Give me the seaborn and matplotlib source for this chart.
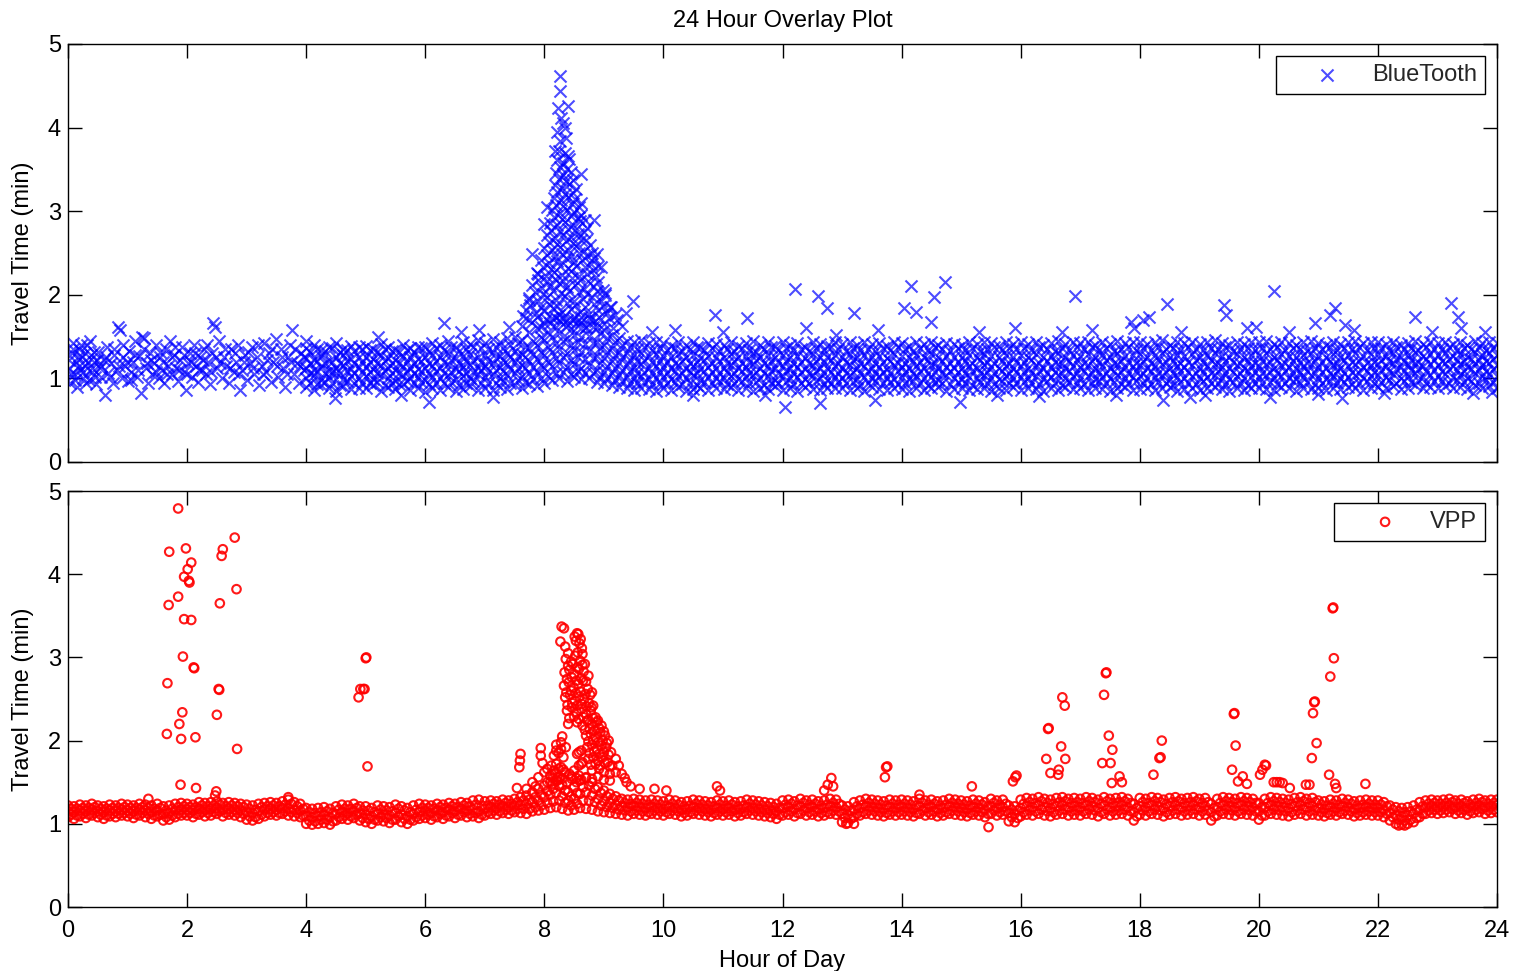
import numpy as np
import pandas as pd
import seaborn as sns
import matplotlib
matplotlib.use("Agg")
import matplotlib.pyplot as plt

# ---------------- BlueTooth data (hour of day, travel time in min) ----------------
bt_early_hour = [0.02, 0.04, 0.06, 0.08, 0.10, 0.13, 0.15, 0.18, 0.20, 0.23, 0.26, 0.29, 0.32, 0.35, 0.38,
                 0.41, 0.44, 0.47, 0.50, 0.53, 0.56, 0.60, 0.62, 0.65, 0.68, 0.72, 0.75, 0.78, 0.82, 0.84,
                 0.87, 0.90, 0.93, 0.96, 1.00, 1.03, 1.06, 1.10, 1.13, 1.16, 1.20, 1.22, 1.25, 1.28, 1.31,
                 1.35, 1.38, 1.41, 1.45, 1.48, 1.52, 1.55, 1.58, 1.62, 1.65, 1.68, 1.72, 1.75, 1.78, 1.82,
                 1.85, 1.88, 1.92, 1.95, 1.98, 2.01, 2.05, 2.08, 2.12, 2.15, 2.18, 2.22, 2.25, 2.28, 2.32,
                 2.35, 2.38, 2.42, 2.44, 2.47, 2.50, 2.54, 2.58, 2.62, 2.66, 2.70, 2.74, 2.78, 2.82, 2.86,
                 2.89, 2.93, 2.97, 3.01, 3.05, 3.09, 3.13, 3.17, 3.21, 3.25, 3.29, 3.33, 3.37, 3.41, 3.45,
                 3.49, 3.53, 3.57, 3.61, 3.65, 3.69, 3.73, 3.76, 3.80, 3.84, 3.88, 3.92, 3.96, 3.99,
                 0.01, 0.05, 0.09, 0.12, 0.16, 0.19, 0.22, 0.25, 0.28, 0.31, 0.34, 0.37, 0.40, 0.43, 0.46,
                 0.49, 0.55, 0.63, 0.70, 0.77, 0.85, 0.92, 0.99, 1.05, 1.12, 1.18, 1.27, 1.33, 1.40, 1.47,
                 1.54, 1.60, 1.67, 1.74, 1.80, 1.87, 1.94, 2.00, 2.06, 2.14, 2.20, 2.27, 2.34, 2.40, 2.48,
                 2.56, 2.64, 2.72, 2.80, 2.88, 2.95, 3.03, 3.11, 3.19, 3.27, 3.35, 3.43, 3.51, 3.59, 3.67,
                 3.75, 3.82, 3.90, 3.97]
bt_early_tt = [1.12, 0.95, 1.30, 1.42, 1.05, 1.20, 0.90, 1.35, 1.10, 1.25, 1.00, 1.15, 1.40, 0.98, 1.28,
               1.08, 1.20, 0.93, 1.32, 1.12, 1.02, 1.22, 0.80, 1.38, 1.06, 1.18, 0.95, 1.28, 1.10, 1.62,
               1.58, 1.00, 1.25, 1.15, 0.97, 1.33, 1.08, 1.20, 1.45, 1.02, 1.27, 0.83, 1.50, 1.48, 1.12,
               0.95, 1.30, 1.05, 1.18, 1.40, 1.00, 1.25, 1.10, 0.94, 1.35, 1.15, 1.45, 1.05, 1.28, 1.12,
               0.97, 1.22, 1.38, 1.08, 0.86, 1.18, 1.30, 1.02, 1.40, 1.15, 0.96, 1.25, 1.10, 1.35, 1.05,
               1.20, 0.93, 1.30, 1.66, 1.62, 1.12, 1.45, 1.00, 1.25, 1.15, 0.95, 1.35, 1.08, 1.20, 1.40,
               0.86, 1.10, 1.28, 0.98, 1.18, 1.38, 1.05, 1.25, 0.92, 1.15, 1.42, 1.08, 1.30, 0.96, 1.20,
               1.47, 1.02, 1.35, 1.12, 0.90, 1.25, 1.40, 1.58, 1.05, 1.18, 0.95, 1.30, 1.10, 1.45,
               1.22, 1.05, 1.35, 0.98, 1.25, 1.15, 1.40, 1.08, 1.30, 0.95, 1.20, 1.45, 1.12, 1.32, 1.02,
               1.22, 1.15, 1.25, 1.02, 1.35, 1.15, 1.40, 1.20, 0.98, 1.28, 1.10, 1.35, 1.18, 1.22, 1.08,
               1.32, 1.20, 1.05, 1.25, 1.38, 1.10, 1.28, 1.05, 1.20, 1.30, 1.10, 1.22, 1.40, 1.08, 1.25,
               1.18, 1.35, 1.12, 1.30, 1.05, 1.20, 1.32, 1.12, 1.40, 1.05, 1.22, 1.35, 1.15, 1.25, 1.05,
               1.20, 1.35, 1.15, 1.25]

bt_band_hour = [4.00, 4.13, 4.25, 4.38, 4.50, 4.62, 4.75, 4.88,
                5.01, 5.13, 5.26, 5.38, 5.50, 5.63, 5.75, 5.87,
                6.00, 6.12, 6.25, 6.38, 6.51, 6.63, 6.75, 6.88,
                7.00, 7.13, 7.25, 7.37, 7.50, 7.62, 7.75, 7.88,
                8.00, 8.13, 8.25, 8.38, 8.50, 8.62, 8.75, 8.88,
                9.00, 9.13, 9.25, 9.38, 9.50, 9.62, 9.75, 9.88,
                10.00, 10.13, 10.25, 10.38, 10.50, 10.62, 10.75, 10.88,
                11.01, 11.13, 11.26, 11.38, 11.50, 11.63, 11.75, 11.87,
                12.00, 12.12, 12.25, 12.38, 12.51, 12.63, 12.75, 12.88,
                13.00, 13.13, 13.25, 13.37, 13.50, 13.62, 13.75, 13.88,
                14.00, 14.13, 14.25, 14.38, 14.50, 14.62, 14.75, 14.88,
                15.01, 15.13, 15.26, 15.38, 15.50, 15.63, 15.75, 15.87,
                16.00, 16.12, 16.25, 16.38, 16.51, 16.63, 16.75, 16.88,
                17.00, 17.13, 17.25, 17.37, 17.50, 17.62, 17.75, 17.88,
                18.00, 18.13, 18.25, 18.38, 18.50, 18.62, 18.75, 18.88,
                19.01, 19.13, 19.26, 19.38, 19.50, 19.63, 19.75, 19.87,
                20.00, 20.12, 20.25, 20.38, 20.51, 20.63, 20.75, 20.88,
                21.00, 21.13, 21.25, 21.37, 21.50, 21.62, 21.75, 21.88,
                22.00, 22.13, 22.25, 22.38, 22.50, 22.62, 22.75, 22.88,
                23.01, 23.13, 23.26, 23.38, 23.50, 23.63, 23.75, 23.87,
                24.00]
bt_band_l1 = [0.90, 0.86, 0.92, 0.88, 0.85, 0.91, 0.87, 0.89,
              0.88, 0.92, 0.85, 0.90, 0.87, 0.93, 0.86, 0.89,
              0.84, 0.88, 0.86, 0.90, 0.85, 0.87, 0.91, 0.86,
              0.88, 0.86, 0.90, 0.87, 0.92, 0.89, 0.93, 0.91,
              0.95, 0.98, 1.00, 0.97, 1.02, 0.99, 1.01, 0.96,
              0.94, 0.92, 0.90, 0.88, 0.86, 0.89, 0.87, 0.85,
              0.88, 0.86, 0.90, 0.85, 0.87, 0.89, 0.86, 0.88,
              0.87, 0.90, 0.86, 0.88, 0.85, 0.89, 0.87, 0.91,
              0.86, 0.88, 0.85, 0.90, 0.87, 0.86, 0.89, 0.88,
              0.89, 0.86, 0.88, 0.85, 0.90, 0.87, 0.86, 0.89,
              0.87, 0.85, 0.89, 0.86, 0.88, 0.90, 0.85, 0.87,
              0.88, 0.86, 0.87, 0.89, 0.85, 0.88, 0.86, 0.90,
              0.86, 0.89, 0.87, 0.85, 0.88, 0.86, 0.90, 0.87,
              0.88, 0.86, 0.89, 0.87, 0.85, 0.88, 0.90, 0.86,
              0.87, 0.89, 0.86, 0.88, 0.90, 0.85, 0.87, 0.89,
              0.86, 0.88, 0.90, 0.87, 0.85, 0.89, 0.86, 0.88,
              0.89, 0.87, 0.86, 0.90, 0.88, 0.85, 0.89, 0.87,
              0.88, 0.86, 0.89, 0.87, 0.90, 0.88, 0.86, 0.89,
              0.90, 0.88, 0.91, 0.87, 0.89, 0.92, 0.88, 0.90,
              0.89, 0.91, 0.88, 0.90, 0.87, 0.92, 0.89, 0.91,
              0.88]
bt_band_l2 = [1.00, 1.04, 0.98, 1.02, 1.06, 0.99, 1.03, 1.01,
              1.03, 0.99, 1.05, 1.01, 0.97, 1.04, 1.00, 1.02,
              0.98, 1.02, 1.00, 1.04, 0.99, 1.03, 1.01, 1.05,
              1.02, 1.05, 1.00, 1.04, 1.07, 1.03, 1.06, 1.08,
              1.12, 1.15, 1.18, 1.14, 1.17, 1.13, 1.16, 1.10,
              1.08, 1.06, 1.04, 1.02, 1.00, 1.03, 0.99, 1.01,
              1.02, 0.99, 1.03, 1.00, 1.04, 0.98, 1.02, 1.01,
              1.00, 1.03, 0.99, 1.02, 1.04, 1.00, 1.03, 0.98,
              1.03, 1.00, 1.02, 0.99, 1.04, 1.01, 0.98, 1.02,
              1.01, 1.04, 0.99, 1.02, 1.00, 1.03, 1.01, 0.99,
              1.02, 0.99, 1.03, 1.00, 1.02, 0.98, 1.04, 1.01,
              0.99, 1.02, 1.00, 1.04, 1.01, 0.99, 1.03, 1.00,
              1.02, 1.00, 1.03, 0.99, 1.02, 1.04, 1.00, 1.03,
              1.01, 1.03, 0.99, 1.02, 1.00, 1.04, 1.01, 1.02,
              1.03, 1.00, 1.02, 1.04, 0.99, 1.02, 1.01, 1.03,
              1.00, 1.02, 1.04, 1.01, 0.99, 1.03, 1.00, 1.02,
              1.02, 1.04, 1.00, 1.03, 1.01, 0.99, 1.02, 1.04,
              1.01, 0.99, 1.03, 1.00, 1.02, 1.04, 1.01, 1.03,
              1.04, 1.02, 1.05, 1.01, 1.03, 1.06, 1.02, 1.04,
              1.03, 1.05, 1.02, 1.04, 1.01, 1.06, 1.03, 1.05,
              1.03]
bt_band_l3 = [1.12, 1.10, 1.15, 1.09, 1.13, 1.16, 1.11, 1.14,
              1.14, 1.11, 1.16, 1.12, 1.10, 1.15, 1.13, 1.11,
              1.12, 1.15, 1.13, 1.17, 1.11, 1.14, 1.16, 1.13,
              1.15, 1.18, 1.14, 1.17, 1.20, 1.16, 1.21, 1.23,
              1.28, 1.32, 1.35, 1.30, 1.34, 1.31, 1.33, 1.27,
              1.24, 1.21, 1.18, 1.16, 1.14, 1.17, 1.13, 1.15,
              1.14, 1.12, 1.16, 1.13, 1.15, 1.11, 1.14, 1.13,
              1.13, 1.16, 1.12, 1.14, 1.17, 1.13, 1.15, 1.12,
              1.15, 1.12, 1.14, 1.11, 1.16, 1.13, 1.12, 1.15,
              1.13, 1.16, 1.12, 1.15, 1.13, 1.14, 1.11, 1.16,
              1.14, 1.12, 1.15, 1.13, 1.16, 1.12, 1.14, 1.13,
              1.12, 1.15, 1.13, 1.16, 1.14, 1.12, 1.15, 1.13,
              1.15, 1.13, 1.16, 1.12, 1.14, 1.17, 1.13, 1.15,
              1.14, 1.16, 1.12, 1.15, 1.13, 1.17, 1.14, 1.15,
              1.16, 1.13, 1.15, 1.17, 1.12, 1.15, 1.14, 1.16,
              1.13, 1.15, 1.17, 1.14, 1.12, 1.16, 1.13, 1.15,
              1.15, 1.17, 1.13, 1.16, 1.14, 1.12, 1.15, 1.17,
              1.14, 1.12, 1.16, 1.13, 1.15, 1.17, 1.14, 1.16,
              1.17, 1.15, 1.18, 1.14, 1.16, 1.19, 1.15, 1.17,
              1.16, 1.18, 1.15, 1.17, 1.14, 1.19, 1.16, 1.18,
              1.16]
bt_band_l4 = [1.24, 1.22, 1.27, 1.21, 1.25, 1.28, 1.23, 1.26,
              1.26, 1.23, 1.28, 1.24, 1.22, 1.27, 1.25, 1.23,
              1.25, 1.28, 1.26, 1.30, 1.24, 1.27, 1.29, 1.26,
              1.28, 1.31, 1.27, 1.30, 1.33, 1.29, 1.36, 1.40,
              1.46, 1.50, 1.54, 1.48, 1.52, 1.49, 1.51, 1.44,
              1.40, 1.36, 1.32, 1.30, 1.28, 1.30, 1.27, 1.29,
              1.27, 1.25, 1.29, 1.26, 1.28, 1.24, 1.27, 1.26,
              1.26, 1.29, 1.25, 1.27, 1.30, 1.26, 1.28, 1.25,
              1.28, 1.25, 1.27, 1.24, 1.29, 1.26, 1.25, 1.28,
              1.26, 1.29, 1.25, 1.28, 1.26, 1.27, 1.24, 1.29,
              1.27, 1.25, 1.28, 1.26, 1.29, 1.25, 1.27, 1.26,
              1.25, 1.28, 1.26, 1.29, 1.27, 1.25, 1.28, 1.26,
              1.28, 1.26, 1.29, 1.25, 1.27, 1.30, 1.26, 1.28,
              1.27, 1.29, 1.25, 1.28, 1.26, 1.30, 1.27, 1.28,
              1.29, 1.26, 1.28, 1.30, 1.25, 1.28, 1.27, 1.29,
              1.26, 1.28, 1.30, 1.27, 1.25, 1.29, 1.26, 1.28,
              1.28, 1.30, 1.26, 1.29, 1.27, 1.25, 1.28, 1.30,
              1.27, 1.25, 1.29, 1.26, 1.28, 1.30, 1.27, 1.29,
              1.29, 1.27, 1.30, 1.26, 1.28, 1.31, 1.27, 1.29,
              1.28, 1.30, 1.27, 1.29, 1.26, 1.31, 1.28, 1.30,
              1.28]
bt_band_l5 = [1.36, 1.40, 1.34, 1.38, 1.42, 1.35, 1.39, 1.37,
              1.39, 1.35, 1.41, 1.37, 1.34, 1.40, 1.36, 1.38,
              1.38, 1.42, 1.40, 1.45, 1.37, 1.43, 1.41, 1.46,
              1.42, 1.47, 1.44, 1.48, 1.50, 1.46, 1.55, 1.60,
              1.66, 1.72, 1.76, 1.70, 1.74, 1.68, 1.72, 1.62,
              1.58, 1.52, 1.48, 1.45, 1.43, 1.46, 1.42, 1.44,
              1.42, 1.39, 1.44, 1.40, 1.43, 1.38, 1.42, 1.41,
              1.40, 1.44, 1.39, 1.42, 1.45, 1.40, 1.43, 1.39,
              1.43, 1.40, 1.42, 1.38, 1.44, 1.41, 1.39, 1.43,
              1.41, 1.44, 1.40, 1.43, 1.41, 1.42, 1.39, 1.44,
              1.42, 1.39, 1.43, 1.41, 1.44, 1.40, 1.42, 1.41,
              1.40, 1.43, 1.41, 1.44, 1.42, 1.39, 1.43, 1.41,
              1.43, 1.41, 1.44, 1.40, 1.42, 1.45, 1.41, 1.43,
              1.42, 1.44, 1.40, 1.43, 1.41, 1.45, 1.42, 1.43,
              1.44, 1.41, 1.43, 1.46, 1.40, 1.43, 1.42, 1.44,
              1.41, 1.43, 1.46, 1.42, 1.40, 1.44, 1.41, 1.43,
              1.43, 1.45, 1.41, 1.44, 1.42, 1.40, 1.43, 1.45,
              1.42, 1.40, 1.44, 1.41, 1.43, 1.45, 1.42, 1.44,
              1.43, 1.41, 1.44, 1.40, 1.42, 1.45, 1.41, 1.43,
              1.42, 1.44, 1.41, 1.43, 1.40, 1.45, 1.42, 1.44,
              1.42]

bt_band2_hour = [4.06, 4.19, 4.31, 4.44, 4.56, 4.69, 4.81, 4.94,
                 5.07, 5.19, 5.32, 5.44, 5.56, 5.69, 5.81, 5.93,
                 6.06, 6.18, 6.31, 6.44, 6.57, 6.69, 6.81, 6.94,
                 7.06, 7.19, 7.31, 7.43, 7.56, 7.68, 7.81, 7.94,
                 8.06, 8.19, 8.31, 8.44, 8.56, 8.68, 8.81, 8.94,
                 9.06, 9.19, 9.31, 9.44, 9.56, 9.68, 9.81, 9.94,
                 10.06, 10.19, 10.31, 10.44, 10.56, 10.68, 10.81, 10.94,
                 11.07, 11.19, 11.32, 11.44, 11.56, 11.69, 11.81, 11.93,
                 12.06, 12.18, 12.31, 12.44, 12.57, 12.69, 12.81, 12.94,
                 13.06, 13.19, 13.31, 13.43, 13.56, 13.68, 13.81, 13.94,
                 14.06, 14.19, 14.31, 14.44, 14.56, 14.68, 14.81, 14.94,
                 15.07, 15.19, 15.32, 15.44, 15.56, 15.69, 15.81, 15.93,
                 16.06, 16.18, 16.31, 16.44, 16.57, 16.69, 16.81, 16.94,
                 17.06, 17.19, 17.31, 17.43, 17.56, 17.68, 17.81, 17.94,
                 18.06, 18.19, 18.31, 18.44, 18.56, 18.68, 18.81, 18.94,
                 19.07, 19.19, 19.32, 19.44, 19.56, 19.69, 19.81, 19.93,
                 20.06, 20.18, 20.31, 20.44, 20.57, 20.69, 20.81, 20.94,
                 21.06, 21.19, 21.31, 21.43, 21.56, 21.68, 21.81, 21.94,
                 22.06, 22.19, 22.31, 22.44, 22.56, 22.68, 22.81, 22.94,
                 23.07, 23.19, 23.32, 23.44, 23.56, 23.69, 23.81, 23.94]
bt_band2_m1 = [0.95, 0.93, 0.96, 0.94, 0.92, 0.97, 0.94, 0.95,
               0.94, 0.96, 0.92, 0.95, 0.93, 0.97, 0.94, 0.96,
               0.93, 0.95, 0.94, 0.96, 0.92, 0.95, 0.97, 0.94,
               0.95, 0.94, 0.97, 0.95, 0.98, 0.96, 0.99, 1.00,
               1.03, 1.06, 1.08, 1.05, 1.09, 1.07, 1.06, 1.02,
               1.00, 0.98, 0.97, 0.95, 0.94, 0.96, 0.93, 0.95,
               0.94, 0.96, 0.93, 0.95, 0.92, 0.96, 0.94, 0.97,
               0.93, 0.95, 0.97, 0.94, 0.96, 0.92, 0.95, 0.94,
               0.96, 0.93, 0.95, 0.94, 0.97, 0.93, 0.95, 0.96,
               0.94, 0.96, 0.92, 0.95, 0.97, 0.94, 0.96, 0.93,
               0.95, 0.97, 0.94, 0.92, 0.96, 0.95, 0.93, 0.96,
               0.94, 0.92, 0.96, 0.95, 0.93, 0.97, 0.94, 0.95,
               0.96, 0.94, 0.93, 0.97, 0.95, 0.92, 0.96, 0.94,
               0.93, 0.95, 0.97, 0.94, 0.96, 0.93, 0.95, 0.97,
               0.95, 0.93, 0.96, 0.94, 0.92, 0.96, 0.95, 0.93,
               0.97, 0.94, 0.95, 0.93, 0.96, 0.94, 0.92, 0.95,
               0.94, 0.96, 0.93, 0.95, 0.97, 0.94, 0.96, 0.93,
               0.95, 0.97, 0.94, 0.96, 0.93, 0.95, 0.97, 0.94,
               0.96, 0.98, 0.95, 0.97, 0.96, 0.98, 0.95, 0.97,
               0.97, 0.95, 0.98, 0.96, 0.97, 0.95, 0.98, 0.96]
bt_band2_m2 = [1.07, 1.09, 1.06, 1.08, 1.07, 1.09, 1.06, 1.08,
               1.08, 1.06, 1.09, 1.07, 1.06, 1.08, 1.07, 1.09,
               1.07, 1.09, 1.06, 1.08, 1.09, 1.07, 1.08, 1.10,
               1.08, 1.10, 1.09, 1.11, 1.13, 1.12, 1.14, 1.16,
               1.20, 1.24, 1.26, 1.22, 1.25, 1.23, 1.24, 1.19,
               1.15, 1.12, 1.10, 1.09, 1.07, 1.08, 1.07, 1.08,
               1.07, 1.09, 1.06, 1.08, 1.07, 1.09, 1.08, 1.06,
               1.08, 1.06, 1.09, 1.07, 1.08, 1.06, 1.09, 1.07,
               1.09, 1.07, 1.08, 1.06, 1.09, 1.07, 1.08, 1.07,
               1.06, 1.08, 1.07, 1.09, 1.06, 1.08, 1.07, 1.09,
               1.08, 1.06, 1.09, 1.07, 1.08, 1.06, 1.09, 1.08,
               1.07, 1.09, 1.06, 1.08, 1.07, 1.09, 1.06, 1.08,
               1.08, 1.07, 1.09, 1.06, 1.08, 1.07, 1.09, 1.07,
               1.09, 1.07, 1.08, 1.06, 1.09, 1.08, 1.07, 1.09,
               1.07, 1.09, 1.06, 1.08, 1.07, 1.09, 1.08, 1.06,
               1.08, 1.06, 1.09, 1.07, 1.08, 1.07, 1.09, 1.08,
               1.07, 1.08, 1.06, 1.09, 1.07, 1.08, 1.09, 1.07,
               1.08, 1.07, 1.09, 1.07, 1.08, 1.06, 1.09, 1.08,
               1.10, 1.09, 1.11, 1.09, 1.10, 1.11, 1.09, 1.10,
               1.09, 1.11, 1.10, 1.09, 1.11, 1.10, 1.09, 1.11]
bt_band2_m3 = [1.19, 1.21, 1.18, 1.20, 1.19, 1.21, 1.18, 1.20,
               1.20, 1.18, 1.21, 1.19, 1.18, 1.20, 1.19, 1.21,
               1.19, 1.21, 1.20, 1.22, 1.19, 1.21, 1.22, 1.20,
               1.21, 1.24, 1.22, 1.25, 1.27, 1.26, 1.29, 1.32,
               1.38, 1.42, 1.45, 1.40, 1.43, 1.41, 1.42, 1.36,
               1.32, 1.28, 1.25, 1.22, 1.21, 1.22, 1.20, 1.21,
               1.20, 1.19, 1.21, 1.18, 1.20, 1.22, 1.19, 1.21,
               1.19, 1.21, 1.18, 1.20, 1.22, 1.19, 1.21, 1.20,
               1.21, 1.19, 1.20, 1.18, 1.21, 1.20, 1.22, 1.19,
               1.20, 1.22, 1.19, 1.21, 1.18, 1.20, 1.21, 1.19,
               1.19, 1.21, 1.20, 1.22, 1.19, 1.21, 1.18, 1.20,
               1.21, 1.19, 1.22, 1.20, 1.18, 1.21, 1.19, 1.20,
               1.20, 1.22, 1.19, 1.21, 1.20, 1.18, 1.21, 1.22,
               1.19, 1.21, 1.20, 1.22, 1.19, 1.21, 1.20, 1.18,
               1.21, 1.19, 1.22, 1.20, 1.21, 1.19, 1.20, 1.22,
               1.20, 1.22, 1.19, 1.21, 1.20, 1.18, 1.21, 1.19,
               1.21, 1.20, 1.22, 1.19, 1.21, 1.20, 1.18, 1.21,
               1.20, 1.21, 1.19, 1.22, 1.20, 1.21, 1.19, 1.20,
               1.22, 1.21, 1.23, 1.21, 1.22, 1.20, 1.23, 1.22,
               1.21, 1.23, 1.22, 1.21, 1.23, 1.22, 1.21, 1.23]
bt_band2_m4 = [1.32, 1.35, 1.33, 1.36, 1.31, 1.34, 1.33, 1.35,
               1.34, 1.32, 1.35, 1.33, 1.31, 1.34, 1.32, 1.36,
               1.33, 1.36, 1.34, 1.37, 1.33, 1.35, 1.38, 1.36,
               1.35, 1.38, 1.36, 1.40, 1.42, 1.38, 1.45, 1.50,
               1.56, 1.61, 1.65, 1.59, 1.63, 1.60, 1.62, 1.54,
               1.48, 1.44, 1.40, 1.37, 1.35, 1.37, 1.34, 1.36,
               1.34, 1.36, 1.33, 1.35, 1.37, 1.34, 1.36, 1.33,
               1.35, 1.33, 1.36, 1.34, 1.32, 1.35, 1.37, 1.34,
               1.36, 1.34, 1.35, 1.33, 1.36, 1.34, 1.37, 1.35,
               1.33, 1.36, 1.34, 1.35, 1.33, 1.36, 1.34, 1.37,
               1.35, 1.33, 1.36, 1.34, 1.37, 1.35, 1.33, 1.36,
               1.34, 1.36, 1.33, 1.35, 1.37, 1.34, 1.36, 1.35,
               1.36, 1.34, 1.37, 1.35, 1.33, 1.36, 1.34, 1.37,
               1.35, 1.37, 1.34, 1.36, 1.33, 1.35, 1.37, 1.34,
               1.36, 1.34, 1.37, 1.35, 1.36, 1.34, 1.37, 1.35,
               1.34, 1.36, 1.35, 1.37, 1.33, 1.35, 1.36, 1.34,
               1.36, 1.35, 1.37, 1.34, 1.36, 1.35, 1.33, 1.36,
               1.35, 1.37, 1.34, 1.36, 1.35, 1.37, 1.34, 1.36,
               1.36, 1.34, 1.37, 1.35, 1.36, 1.34, 1.37, 1.35,
               1.35, 1.37, 1.34, 1.36, 1.35, 1.37, 1.34, 1.36]

bt_peak_hour = [7.62, 7.80, 7.95, 8.10, 8.25, 8.40, 8.55, 8.70, 8.85, 9.00, 9.15, 9.30,
                7.70, 7.86, 8.00, 8.15, 8.30, 8.45, 8.60, 8.75, 8.90, 9.05, 9.18,
                7.74, 7.90, 8.05, 8.20, 8.35, 8.50, 8.65, 8.80, 8.95,
                7.80, 7.96, 8.10, 8.24, 8.38, 8.52, 8.66, 8.82, 8.98,
                7.88, 8.02, 8.16, 8.30, 8.44, 8.58, 8.72, 8.86,
                7.95, 8.08, 8.22, 8.36, 8.50, 8.64, 8.78, 8.90,
                8.00, 8.13, 8.26, 8.40, 8.53, 8.66, 8.80,
                8.05, 8.18, 8.31, 8.44, 8.57, 8.70,
                8.10, 8.22, 8.35, 8.48, 8.60, 8.72,
                8.13, 8.26, 8.38, 8.50, 8.62,
                8.16, 8.28, 8.40, 8.52, 8.62,
                8.18, 8.30, 8.42, 8.54,
                8.20, 8.32, 8.44,
                8.22, 8.32, 8.42,
                8.25, 8.35,
                8.27, 8.26, 8.23, 8.39, 8.31, 8.28, 8.34, 8.22, 8.36, 8.27, 8.18, 8.40,
                8.84, 9.49, 9.37, 8.88, 8.96, 7.80, 7.90, 7.74, 9.02, 9.10, 7.65, 8.62, 8.05, 8.00,
                7.70, 7.88, 8.02, 8.18, 8.32, 8.48, 8.62, 8.78, 8.92, 9.08, 9.22,
                7.76, 7.94, 8.08, 8.22, 8.38, 8.52, 8.68, 8.84, 8.98, 9.12,
                7.84, 7.98, 8.14, 8.28, 8.42, 8.58, 8.72, 8.88, 9.02,
                7.90, 8.04, 8.18, 8.32, 8.46, 8.60, 8.74, 8.90,
                7.98, 8.12, 8.26, 8.40, 8.54, 8.68, 8.82,
                8.04, 8.18, 8.30, 8.44, 8.58, 8.72, 8.84,
                8.08, 8.22, 8.36, 8.48, 8.62, 8.76,
                8.12, 8.26, 8.40, 8.52, 8.66,
                8.16, 8.30, 8.44, 8.56, 8.68,
                8.20, 8.32, 8.46, 8.58,
                8.22, 8.34, 8.48,
                8.24, 8.36, 8.48,
                8.26, 8.38]
bt_peak_tt = [1.63, 1.68, 1.61, 1.66, 1.70, 1.64, 1.67, 1.62, 1.69, 1.65, 1.60, 1.63,
              1.82, 1.78, 1.81, 1.84, 1.79, 1.83, 1.80, 1.77, 1.82, 1.78, 1.76,
              1.96, 1.93, 1.97, 1.94, 1.98, 1.92, 1.95, 1.97, 1.93,
              2.12, 2.08, 2.11, 2.14, 2.09, 2.12, 2.07, 2.10, 2.06,
              2.26, 2.23, 2.27, 2.24, 2.28, 2.22, 2.25, 2.21,
              2.42, 2.38, 2.41, 2.44, 2.39, 2.42, 2.37, 2.35,
              2.56, 2.53, 2.57, 2.54, 2.58, 2.52, 2.50,
              2.71, 2.68, 2.72, 2.69, 2.73, 2.66,
              2.86, 2.83, 2.87, 2.84, 2.88, 2.80,
              3.01, 2.98, 3.02, 2.99, 2.96,
              3.16, 3.13, 3.17, 3.14, 3.10,
              3.31, 3.28, 3.32, 3.27,
              3.46, 3.43, 3.47,
              3.61, 3.58, 3.62,
              3.72, 3.70,
              4.62, 4.44, 4.23, 4.26, 4.05, 4.12, 4.00, 3.95, 3.88, 3.84, 3.72, 3.66,
              2.89, 1.92, 1.78, 2.49, 2.33, 2.49, 2.25, 1.94, 2.02, 1.85, 1.75, 3.45, 3.05, 2.85,
              1.72, 1.74, 1.71, 1.73, 1.72, 1.70, 1.74, 1.71, 1.73, 1.72, 1.70,
              1.88, 1.86, 1.89, 1.87, 1.90, 1.88, 1.86, 1.89, 1.87, 1.85,
              2.03, 2.01, 2.04, 2.02, 2.05, 2.03, 2.01, 2.04, 2.00,
              2.18, 2.16, 2.19, 2.17, 2.20, 2.18, 2.16, 2.15,
              2.33, 2.31, 2.34, 2.32, 2.35, 2.33, 2.30,
              2.48, 2.46, 2.49, 2.47, 2.50, 2.46, 2.44,
              2.63, 2.61, 2.64, 2.62, 2.65, 2.60,
              2.78, 2.76, 2.79, 2.77, 2.75,
              2.93, 2.91, 2.94, 2.92, 2.90,
              3.08, 3.06, 3.09, 3.05,
              3.23, 3.21, 3.22,
              3.38, 3.36, 3.37,
              3.53, 3.51]

bt_out_hour = [4.49, 6.32, 6.07, 7.13, 10.87, 11.40, 12.21, 12.60, 12.74, 13.20, 12.05, 12.63, 13.55,
               14.15, 14.73, 14.55, 14.04, 14.24, 14.49, 16.91, 14.98, 18.46, 18.15, 19.41, 19.45,
               20.26, 21.28, 21.19, 20.95, 22.62, 23.23, 23.35, 23.39, 21.40, 20.18, 23.92, 18.39,
               18.84, 5.20, 5.60, 6.60, 6.90, 7.40, 9.80, 10.20, 10.50, 11.00, 11.70, 12.40, 12.90,
               13.60, 15.30, 15.60, 15.90, 16.30, 16.70, 17.20, 17.60, 17.90, 18.70, 19.10, 19.80,
               20.50, 21.00, 21.60, 22.10, 22.90, 23.60, 23.80, 17.85, 18.05, 19.95, 21.45]
bt_out_tt = [0.76, 1.66, 0.72, 0.78, 1.76, 1.72, 2.07, 1.98, 1.84, 1.78, 0.66, 0.70, 0.74,
             2.11, 2.15, 1.97, 1.84, 1.80, 1.68, 1.98, 0.72, 1.89, 1.74, 1.88, 1.76,
             2.04, 1.84, 1.76, 1.66, 1.74, 1.90, 1.74, 1.60, 0.76, 0.78, 0.84, 0.74,
             0.78, 1.50, 0.80, 1.55, 1.58, 1.62, 1.55, 1.58, 0.80, 1.55, 0.80, 1.60, 1.52,
             1.58, 1.55, 0.80, 1.60, 0.79, 1.56, 1.58, 0.80, 1.60, 1.55, 0.80, 1.60,
             1.55, 0.81, 1.58, 0.82, 1.55, 0.83, 1.55, 1.68, 1.70, 1.62, 1.64]

# ---------------- VPP data (hour of day, travel time in min) ----------------
vpp_band_hour = [0.0, 0.1, 0.2, 0.3, 0.4, 0.5, 0.6, 0.7, 0.8, 0.9,
                 1.0, 1.1, 1.2, 1.3, 1.4, 1.5, 1.6, 1.7, 1.8, 1.9,
                 2.0, 2.1, 2.2, 2.3, 2.4, 2.5, 2.6, 2.7, 2.8, 2.9,
                 3.0, 3.1, 3.2, 3.3, 3.4, 3.5, 3.6, 3.7, 3.8, 3.9,
                 4.0, 4.1, 4.2, 4.3, 4.4, 4.5, 4.6, 4.7, 4.8, 4.9,
                 5.0, 5.1, 5.2, 5.3, 5.4, 5.5, 5.6, 5.7, 5.8, 5.9,
                 6.0, 6.1, 6.2, 6.3, 6.4, 6.5, 6.6, 6.7, 6.8, 6.9,
                 7.0, 7.1, 7.2, 7.3, 7.4, 7.5, 7.6, 7.7, 7.8, 7.9,
                 8.0, 8.1, 8.2, 8.3, 8.4, 8.5, 8.6, 8.7, 8.8, 8.9,
                 9.0, 9.1, 9.2, 9.3, 9.4, 9.5, 9.6, 9.7, 9.8, 9.9,
                 10.0, 10.1, 10.2, 10.3, 10.4, 10.5, 10.6, 10.7, 10.8, 10.9,
                 11.0, 11.1, 11.2, 11.3, 11.4, 11.5, 11.6, 11.7, 11.8, 11.9,
                 12.0, 12.1, 12.2, 12.3, 12.4, 12.5, 12.6, 12.7, 12.8, 12.9,
                 13.0, 13.1, 13.2, 13.3, 13.4, 13.5, 13.6, 13.7, 13.8, 13.9,
                 14.0, 14.1, 14.2, 14.3, 14.4, 14.5, 14.6, 14.7, 14.8, 14.9,
                 15.0, 15.1, 15.2, 15.3, 15.4, 15.5, 15.6, 15.7, 15.8, 15.9,
                 16.0, 16.1, 16.2, 16.3, 16.4, 16.5, 16.6, 16.7, 16.8, 16.9,
                 17.0, 17.1, 17.2, 17.3, 17.4, 17.5, 17.6, 17.7, 17.8, 17.9,
                 18.0, 18.1, 18.2, 18.3, 18.4, 18.5, 18.6, 18.7, 18.8, 18.9,
                 19.0, 19.1, 19.2, 19.3, 19.4, 19.5, 19.6, 19.7, 19.8, 19.9,
                 20.0, 20.1, 20.2, 20.3, 20.4, 20.5, 20.6, 20.7, 20.8, 20.9,
                 21.0, 21.1, 21.2, 21.3, 21.4, 21.5, 21.6, 21.7, 21.8, 21.9,
                 22.0, 22.1, 22.2, 22.3, 22.4, 22.5, 22.6, 22.7, 22.8, 22.9,
                 23.0, 23.1, 23.2, 23.3, 23.4, 23.5, 23.6, 23.7, 23.8, 23.9,
                 24.0]
vpp_band_lo = [1.08, 1.06, 1.09, 1.07, 1.10, 1.08, 1.06, 1.09, 1.08, 1.10,
               1.09, 1.07, 1.10, 1.08, 1.06, 1.09, 1.04, 1.05, 1.08, 1.10,
               1.10, 1.08, 1.11, 1.09, 1.10, 1.12, 1.09, 1.11, 1.10, 1.08,
               1.05, 1.04, 1.06, 1.09, 1.11, 1.10, 1.12, 1.10, 1.09, 1.08,
               1.00, 0.99, 1.00, 1.01, 0.99, 1.04, 1.06, 1.05, 1.07, 1.04,
               1.02, 1.00, 1.04, 1.03, 1.01, 1.05, 1.02, 1.00, 1.04, 1.06,
               1.07, 1.05, 1.08, 1.06, 1.09, 1.07, 1.10, 1.08, 1.09, 1.07,
               1.10, 1.12, 1.11, 1.13, 1.12, 1.14, 1.13, 1.12, 1.15, 1.16,
               1.17, 1.19, 1.20, 1.18, 1.16, 1.17, 1.19, 1.18, 1.17, 1.15,
               1.14, 1.13, 1.12, 1.11, 1.10, 1.12, 1.11, 1.10, 1.12, 1.11,
               1.10, 1.12, 1.11, 1.09, 1.10, 1.12, 1.11, 1.10, 1.09, 1.11,
               1.10, 1.11, 1.09, 1.10, 1.12, 1.11, 1.10, 1.09, 1.08, 1.06,
               1.10, 1.11, 1.09, 1.12, 1.10, 1.11, 1.09, 1.10, 1.12, 1.11,
               1.02, 1.01, 1.08, 1.10, 1.12, 1.11, 1.10, 1.09, 1.11, 1.10,
               1.11, 1.10, 1.09, 1.12, 1.10, 1.11, 1.09, 1.10, 1.12, 1.11,
               1.10, 1.09, 1.11, 1.10, 1.08, 1.12, 1.10, 1.11, 1.03, 1.02,
               1.09, 1.11, 1.10, 1.12, 1.10, 1.09, 1.11, 1.12, 1.10, 1.11,
               1.10, 1.12, 1.11, 1.09, 1.12, 1.10, 1.11, 1.12, 1.10, 1.04,
               1.11, 1.10, 1.12, 1.11, 1.09, 1.11, 1.12, 1.10, 1.11, 1.12,
               1.10, 1.11, 1.04, 1.10, 1.12, 1.11, 1.10, 1.12, 1.11, 1.10,
               1.05, 1.10, 1.12, 1.11, 1.10, 1.09, 1.11, 1.12, 1.10, 1.11,
               1.10, 1.09, 1.11, 1.10, 1.12, 1.11, 1.09, 1.10, 1.11, 1.10,
               1.10, 1.08, 1.04, 1.00, 0.99, 1.00, 1.02, 1.08, 1.12, 1.13,
               1.12, 1.13, 1.14, 1.12, 1.13, 1.11, 1.13, 1.14, 1.12, 1.13,
               1.14]
vpp_band_mid = [1.15, 1.14, 1.16, 1.15, 1.17, 1.15, 1.14, 1.16, 1.15, 1.17,
                1.16, 1.15, 1.17, 1.16, 1.14, 1.16, 1.12, 1.13, 1.16, 1.17,
                1.17, 1.16, 1.18, 1.17, 1.18, 1.19, 1.17, 1.18, 1.17, 1.16,
                1.14, 1.13, 1.15, 1.17, 1.18, 1.17, 1.19, 1.18, 1.17, 1.16,
                1.09, 1.08, 1.09, 1.10, 1.08, 1.12, 1.14, 1.13, 1.15, 1.12,
                1.11, 1.09, 1.12, 1.11, 1.10, 1.13, 1.11, 1.09, 1.12, 1.14,
                1.15, 1.13, 1.16, 1.14, 1.17, 1.15, 1.18, 1.16, 1.17, 1.15,
                1.18, 1.20, 1.19, 1.21, 1.20, 1.22, 1.23, 1.24, 1.26, 1.28,
                1.32, 1.35, 1.37, 1.33, 1.28, 1.30, 1.36, 1.38, 1.34, 1.30,
                1.27, 1.25, 1.23, 1.21, 1.20, 1.21, 1.20, 1.19, 1.20, 1.19,
                1.18, 1.20, 1.19, 1.17, 1.18, 1.20, 1.19, 1.18, 1.17, 1.19,
                1.18, 1.19, 1.17, 1.18, 1.20, 1.19, 1.18, 1.17, 1.16, 1.15,
                1.19, 1.20, 1.18, 1.21, 1.19, 1.20, 1.18, 1.19, 1.21, 1.20,
                1.12, 1.11, 1.17, 1.19, 1.21, 1.20, 1.19, 1.18, 1.20, 1.19,
                1.20, 1.19, 1.18, 1.21, 1.19, 1.20, 1.18, 1.19, 1.21, 1.20,
                1.19, 1.18, 1.20, 1.19, 1.17, 1.21, 1.19, 1.20, 1.13, 1.12,
                1.19, 1.21, 1.20, 1.22, 1.20, 1.19, 1.21, 1.22, 1.20, 1.21,
                1.20, 1.22, 1.21, 1.19, 1.22, 1.20, 1.21, 1.22, 1.20, 1.14,
                1.21, 1.20, 1.22, 1.21, 1.19, 1.21, 1.22, 1.20, 1.21, 1.22,
                1.20, 1.21, 1.14, 1.20, 1.22, 1.21, 1.20, 1.22, 1.21, 1.20,
                1.15, 1.20, 1.22, 1.21, 1.20, 1.19, 1.21, 1.22, 1.20, 1.21,
                1.19, 1.18, 1.20, 1.19, 1.21, 1.20, 1.18, 1.19, 1.20, 1.19,
                1.19, 1.17, 1.13, 1.10, 1.09, 1.10, 1.12, 1.17, 1.20, 1.21,
                1.20, 1.21, 1.22, 1.20, 1.21, 1.19, 1.21, 1.22, 1.20, 1.21,
                1.22]
vpp_band_hi = [1.22, 1.21, 1.23, 1.22, 1.24, 1.22, 1.21, 1.23, 1.22, 1.24,
               1.23, 1.22, 1.24, 1.23, 1.22, 1.24, 1.21, 1.22, 1.24, 1.25,
               1.24, 1.23, 1.26, 1.25, 1.26, 1.27, 1.25, 1.26, 1.25, 1.24,
               1.23, 1.22, 1.24, 1.25, 1.26, 1.25, 1.27, 1.29, 1.26, 1.24,
               1.19, 1.18, 1.19, 1.20, 1.18, 1.21, 1.23, 1.22, 1.24, 1.21,
               1.21, 1.19, 1.22, 1.21, 1.20, 1.23, 1.21, 1.19, 1.22, 1.24,
               1.23, 1.22, 1.24, 1.23, 1.25, 1.24, 1.26, 1.25, 1.28, 1.29,
               1.27, 1.28, 1.27, 1.29, 1.28, 1.30, 1.32, 1.34, 1.38, 1.42,
               1.46, 1.50, 1.52, 1.47, 1.38, 1.44, 1.52, 1.55, 1.50, 1.44,
               1.40, 1.36, 1.33, 1.30, 1.29, 1.30, 1.29, 1.28, 1.29, 1.28,
               1.27, 1.29, 1.28, 1.26, 1.27, 1.29, 1.28, 1.27, 1.26, 1.28,
               1.27, 1.28, 1.26, 1.27, 1.29, 1.28, 1.27, 1.26, 1.25, 1.24,
               1.28, 1.29, 1.27, 1.30, 1.28, 1.29, 1.27, 1.28, 1.30, 1.29,
               1.22, 1.21, 1.26, 1.28, 1.30, 1.29, 1.28, 1.27, 1.29, 1.28,
               1.29, 1.28, 1.27, 1.30, 1.28, 1.29, 1.27, 1.28, 1.30, 1.29,
               1.28, 1.27, 1.29, 1.28, 1.26, 1.30, 1.28, 1.29, 1.22, 1.21,
               1.29, 1.31, 1.30, 1.32, 1.30, 1.29, 1.31, 1.32, 1.30, 1.31,
               1.30, 1.32, 1.31, 1.29, 1.32, 1.30, 1.31, 1.32, 1.30, 1.24,
               1.31, 1.30, 1.32, 1.31, 1.29, 1.31, 1.32, 1.30, 1.31, 1.32,
               1.30, 1.31, 1.24, 1.30, 1.32, 1.31, 1.30, 1.32, 1.31, 1.30,
               1.25, 1.30, 1.32, 1.31, 1.30, 1.29, 1.31, 1.32, 1.30, 1.31,
               1.28, 1.27, 1.29, 1.28, 1.30, 1.29, 1.27, 1.28, 1.29, 1.28,
               1.28, 1.26, 1.22, 1.20, 1.19, 1.20, 1.22, 1.26, 1.28, 1.29,
               1.28, 1.29, 1.30, 1.28, 1.29, 1.27, 1.29, 1.30, 1.28, 1.29,
               1.29]

vpp_band2_hour = [0.05, 0.15, 0.25, 0.35, 0.45, 0.55, 0.65, 0.75, 0.85, 0.95,
                  1.05, 1.15, 1.25, 1.35, 1.45, 1.55, 1.65, 1.75, 1.85, 1.95,
                  2.05, 2.15, 2.25, 2.35, 2.45, 2.55, 2.65, 2.75, 2.85, 2.95,
                  3.05, 3.15, 3.25, 3.35, 3.45, 3.55, 3.65, 3.75, 3.85, 3.95,
                  4.05, 4.15, 4.25, 4.35, 4.45, 4.55, 4.65, 4.75, 4.85, 4.95,
                  5.05, 5.15, 5.25, 5.35, 5.45, 5.55, 5.65, 5.75, 5.85, 5.95,
                  6.05, 6.15, 6.25, 6.35, 6.45, 6.55, 6.65, 6.75, 6.85, 6.95,
                  7.05, 7.15, 7.25, 7.35, 7.45, 7.55, 7.65, 7.75, 7.85, 7.95,
                  8.05, 8.15, 8.25, 8.35, 8.45, 8.55, 8.65, 8.75, 8.85, 8.95,
                  9.05, 9.15, 9.25, 9.35, 9.45, 9.55, 9.65, 9.75, 9.85, 9.95,
                  10.05, 10.15, 10.25, 10.35, 10.45, 10.55, 10.65, 10.75, 10.85, 10.95,
                  11.05, 11.15, 11.25, 11.35, 11.45, 11.55, 11.65, 11.75, 11.85, 11.95,
                  12.05, 12.15, 12.25, 12.35, 12.45, 12.55, 12.65, 12.75, 12.85, 12.95,
                  13.05, 13.15, 13.25, 13.35, 13.45, 13.55, 13.65, 13.75, 13.85, 13.95,
                  14.05, 14.15, 14.25, 14.35, 14.45, 14.55, 14.65, 14.75, 14.85, 14.95,
                  15.05, 15.15, 15.25, 15.35, 15.45, 15.55, 15.65, 15.75, 15.85, 15.95,
                  16.05, 16.15, 16.25, 16.35, 16.45, 16.55, 16.65, 16.75, 16.85, 16.95,
                  17.05, 17.15, 17.25, 17.35, 17.45, 17.55, 17.65, 17.75, 17.85, 17.95,
                  18.05, 18.15, 18.25, 18.35, 18.45, 18.55, 18.65, 18.75, 18.85, 18.95,
                  19.05, 19.15, 19.25, 19.35, 19.45, 19.55, 19.65, 19.75, 19.85, 19.95,
                  20.05, 20.15, 20.25, 20.35, 20.45, 20.55, 20.65, 20.75, 20.85, 20.95,
                  21.05, 21.15, 21.25, 21.35, 21.45, 21.55, 21.65, 21.75, 21.85, 21.95,
                  22.05, 22.15, 22.25, 22.35, 22.45, 22.55, 22.65, 22.75, 22.85, 22.95,
                  23.05, 23.15, 23.25, 23.35, 23.45, 23.55, 23.65, 23.75, 23.85, 23.95]
vpp_band2_m1 = [1.11, 1.10, 1.12, 1.11, 1.13, 1.11, 1.10, 1.12, 1.12, 1.13,
                1.12, 1.11, 1.13, 1.12, 1.10, 1.11, 1.08, 1.10, 1.12, 1.13,
                1.13, 1.12, 1.14, 1.13, 1.14, 1.15, 1.13, 1.14, 1.13, 1.12,
                1.09, 1.08, 1.11, 1.13, 1.14, 1.13, 1.15, 1.14, 1.13, 1.10,
                1.04, 1.03, 1.05, 1.05, 1.03, 1.08, 1.10, 1.09, 1.11, 1.07,
                1.06, 1.05, 1.08, 1.07, 1.05, 1.09, 1.06, 1.05, 1.08, 1.10,
                1.11, 1.09, 1.12, 1.10, 1.13, 1.11, 1.14, 1.12, 1.13, 1.11,
                1.14, 1.16, 1.15, 1.17, 1.16, 1.18, 1.18, 1.18, 1.20, 1.22,
                1.25, 1.27, 1.28, 1.25, 1.22, 1.24, 1.28, 1.28, 1.26, 1.22,
                1.20, 1.19, 1.17, 1.16, 1.15, 1.16, 1.15, 1.14, 1.16, 1.15,
                1.14, 1.16, 1.15, 1.13, 1.14, 1.16, 1.15, 1.14, 1.13, 1.15,
                1.14, 1.15, 1.13, 1.14, 1.16, 1.15, 1.14, 1.13, 1.12, 1.11,
                1.14, 1.15, 1.13, 1.16, 1.14, 1.15, 1.13, 1.14, 1.16, 1.15,
                1.07, 1.06, 1.12, 1.14, 1.16, 1.15, 1.14, 1.13, 1.15, 1.14,
                1.15, 1.14, 1.13, 1.16, 1.14, 1.15, 1.13, 1.14, 1.16, 1.15,
                1.14, 1.13, 1.15, 1.14, 1.12, 1.16, 1.14, 1.15, 1.08, 1.07,
                1.14, 1.16, 1.15, 1.17, 1.15, 1.14, 1.16, 1.17, 1.15, 1.16,
                1.15, 1.17, 1.16, 1.14, 1.17, 1.15, 1.16, 1.17, 1.15, 1.09,
                1.16, 1.15, 1.17, 1.16, 1.14, 1.16, 1.17, 1.15, 1.16, 1.17,
                1.15, 1.16, 1.09, 1.15, 1.17, 1.16, 1.15, 1.17, 1.16, 1.15,
                1.10, 1.15, 1.17, 1.16, 1.15, 1.14, 1.16, 1.17, 1.15, 1.16,
                1.14, 1.13, 1.15, 1.14, 1.16, 1.15, 1.13, 1.14, 1.15, 1.14,
                1.14, 1.12, 1.08, 1.05, 1.04, 1.05, 1.07, 1.12, 1.16, 1.17,
                1.16, 1.17, 1.18, 1.16, 1.17, 1.15, 1.17, 1.18, 1.16, 1.17]
vpp_band2_m2 = [1.18, 1.18, 1.19, 1.19, 1.20, 1.18, 1.18, 1.19, 1.19, 1.20,
                1.19, 1.19, 1.20, 1.19, 1.18, 1.19, 1.16, 1.18, 1.20, 1.21,
                1.20, 1.20, 1.22, 1.21, 1.22, 1.23, 1.21, 1.22, 1.21, 1.20,
                1.18, 1.17, 1.20, 1.21, 1.22, 1.21, 1.23, 1.24, 1.21, 1.18,
                1.14, 1.13, 1.14, 1.15, 1.13, 1.17, 1.18, 1.18, 1.19, 1.16,
                1.16, 1.14, 1.17, 1.16, 1.15, 1.18, 1.16, 1.14, 1.17, 1.19,
                1.19, 1.18, 1.20, 1.19, 1.21, 1.20, 1.22, 1.21, 1.23, 1.22,
                1.22, 1.24, 1.23, 1.25, 1.24, 1.26, 1.28, 1.29, 1.32, 1.35,
                1.39, 1.42, 1.45, 1.40, 1.33, 1.37, 1.44, 1.46, 1.42, 1.37,
                1.33, 1.30, 1.28, 1.25, 1.24, 1.25, 1.24, 1.23, 1.24, 1.23,
                1.22, 1.24, 1.23, 1.21, 1.22, 1.24, 1.23, 1.22, 1.21, 1.23,
                1.22, 1.23, 1.21, 1.22, 1.24, 1.23, 1.22, 1.21, 1.20, 1.19,
                1.23, 1.24, 1.22, 1.25, 1.23, 1.24, 1.22, 1.23, 1.25, 1.24,
                1.17, 1.16, 1.21, 1.23, 1.25, 1.24, 1.23, 1.22, 1.24, 1.23,
                1.24, 1.23, 1.22, 1.25, 1.23, 1.24, 1.22, 1.23, 1.25, 1.24,
                1.23, 1.22, 1.24, 1.23, 1.21, 1.25, 1.23, 1.24, 1.17, 1.16,
                1.24, 1.26, 1.25, 1.27, 1.25, 1.24, 1.26, 1.27, 1.25, 1.26,
                1.25, 1.27, 1.26, 1.24, 1.27, 1.25, 1.26, 1.27, 1.25, 1.19,
                1.26, 1.25, 1.27, 1.26, 1.24, 1.26, 1.27, 1.25, 1.26, 1.27,
                1.25, 1.26, 1.19, 1.25, 1.27, 1.26, 1.25, 1.27, 1.26, 1.25,
                1.20, 1.25, 1.27, 1.26, 1.25, 1.24, 1.26, 1.27, 1.25, 1.26,
                1.23, 1.22, 1.24, 1.23, 1.25, 1.24, 1.22, 1.23, 1.24, 1.23,
                1.23, 1.21, 1.17, 1.15, 1.14, 1.15, 1.17, 1.21, 1.24, 1.25,
                1.24, 1.25, 1.26, 1.24, 1.25, 1.23, 1.25, 1.26, 1.24, 1.25]

vpp_peak_hour = [8.29, 8.33, 8.27, 8.35, 8.55, 8.51, 8.59, 8.63, 8.57, 8.53, 8.61,
                 8.36, 8.45, 8.52, 8.60, 8.68,
                 8.34, 8.42, 8.50, 8.58, 8.66, 8.74,
                 8.33, 8.41, 8.49, 8.57, 8.65, 8.73, 8.80,
                 8.35, 8.43, 8.51, 8.59, 8.67, 8.75, 8.82,
                 8.38, 8.46, 8.54, 8.62, 8.70, 8.78, 8.86,
                 8.40, 8.55, 8.64, 8.72, 8.80, 8.88, 8.96,
                 8.70, 8.78, 8.86, 8.94, 9.02, 9.08,
                 8.72, 8.80, 8.88, 8.96, 9.04, 9.12,
                 8.74, 8.82, 8.90, 8.98, 9.06, 9.14,
                 8.80, 8.92, 9.00, 9.10, 9.20,
                 8.20, 8.28, 8.36, 8.30,
                 8.16, 8.24, 8.32, 8.55, 8.62,
                 8.12, 8.20, 8.28, 8.58, 8.64,
                 8.10, 8.18, 8.26, 8.34, 8.42, 8.50, 8.58,
                 8.05, 8.14, 8.22, 8.38, 8.46, 8.54,
                 7.60, 7.59, 7.58, 7.94, 7.94, 7.97, 7.54, 7.80, 7.90, 8.00, 8.05, 7.70, 7.85,
                 9.30, 9.35, 9.25, 9.20, 9.38, 9.45, 9.60, 9.85, 10.05,
                 8.40, 8.48, 8.56, 8.64,
                 8.38, 8.46, 8.54, 8.62, 8.70,
                 8.37, 8.45, 8.53, 8.61, 8.69, 8.77,
                 8.39, 8.47, 8.55, 8.63, 8.71, 8.79,
                 8.42, 8.50, 8.58, 8.66, 8.74, 8.82, 8.90,
                 8.68, 8.76, 8.84, 8.92, 9.00,
                 8.74, 8.82, 8.90, 8.98, 9.05,
                 8.76, 8.84, 8.92, 9.00, 9.08, 8.20, 8.28, 8.58,
                 8.78, 8.86, 8.94, 9.02, 9.10, 8.16, 8.24, 8.32, 8.62,
                 8.14, 8.22, 8.30, 8.46, 8.54, 8.62, 8.70, 8.80, 8.90, 9.00, 9.10,
                 8.40, 8.56, 8.64]
vpp_peak_tt = [3.37, 3.35, 3.19, 3.13, 3.29, 3.25, 3.17, 3.11, 3.28, 3.20, 3.22,
               2.98, 2.95, 3.02, 2.96, 2.92,
               2.82, 2.85, 2.80, 2.86, 2.83, 2.78,
               2.66, 2.70, 2.64, 2.68, 2.72, 2.62, 2.58,
               2.52, 2.55, 2.48, 2.53, 2.50, 2.45, 2.42,
               2.36, 2.40, 2.34, 2.38, 2.32, 2.36, 2.28,
               2.20, 2.22, 2.18, 2.24, 2.20, 2.22, 2.18,
               2.06, 2.08, 2.04, 2.10, 2.06, 2.00,
               1.92, 1.95, 1.90, 1.94, 1.92, 1.86,
               1.78, 1.80, 1.76, 1.80, 1.74, 1.70,
               1.64, 1.66, 1.62, 1.60, 1.62,
               1.95, 1.98, 1.92, 2.05,
               1.82, 1.85, 1.80, 1.84, 1.88,
               1.70, 1.72, 1.68, 1.70, 1.74,
               1.58, 1.60, 1.56, 1.62, 1.60, 1.64, 1.58,
               1.50, 1.48, 1.52, 1.50, 1.54, 1.50,
               1.84, 1.76, 1.68, 1.91, 1.82, 1.73, 1.43, 1.50, 1.56, 1.62, 1.66, 1.42, 1.45,
               1.60, 1.55, 1.70, 1.78, 1.50, 1.45, 1.42, 1.42, 1.40,
               2.90, 2.92, 2.88, 2.91,
               2.74, 2.76, 2.72, 2.75, 2.71,
               2.58, 2.60, 2.57, 2.59, 2.56, 2.55,
               2.43, 2.45, 2.42, 2.44, 2.41, 2.40,
               2.27, 2.29, 2.26, 2.28, 2.25, 2.27, 2.24,
               2.13, 2.14, 2.12, 2.15, 2.11,
               1.99, 2.01, 1.98, 2.00, 1.97,
               1.85, 1.87, 1.84, 1.86, 1.83, 1.88, 1.90, 1.86,
               1.71, 1.72, 1.70, 1.73, 1.69, 1.64, 1.66, 1.65, 1.72,
               1.55, 1.56, 1.54, 1.57, 1.55, 1.53, 1.56, 1.54, 1.57, 1.53, 1.52,
               3.05, 3.06, 3.04]

vpp_out_hour = [1.85, 1.70, 1.98, 2.07, 2.01, 1.95, 2.03, 2.04, 1.85, 1.69, 1.95, 2.07, 1.93, 2.11,
                2.12, 1.67, 1.92, 1.87, 1.66, 1.90, 2.14, 1.89, 2.15, 2.80, 2.60, 2.58, 2.83, 2.55,
                2.53, 2.54, 2.50, 2.84, 2.49, 2.47, 1.35, 3.70,
                5.00, 5.01, 4.98, 4.96, 4.91, 4.88, 5.03,
                12.82, 12.76, 12.70, 13.72, 13.74, 13.76, 15.18, 15.87, 15.91, 15.93,
                16.43, 16.46, 16.47, 16.50, 16.63, 16.64, 16.68, 16.70, 16.74, 16.75,
                17.37, 17.40, 17.43, 17.44, 17.48, 17.51, 17.53, 17.54, 17.66, 17.70,
                18.23, 18.33, 18.35, 18.37,
                19.55, 19.58, 19.59, 19.61, 19.65, 19.73, 19.80,
                20.02, 20.06, 20.10, 20.12, 20.25, 20.30, 20.35, 20.40, 20.52,
                20.79, 20.85, 20.89, 20.91, 20.93, 20.94, 20.97,
                21.18, 21.20, 21.24, 21.25, 21.26, 21.28, 21.30, 21.79,
                15.46, 22.35, 22.45, 13.07, 13.20, 10.90, 10.95, 12.85, 14.30]
vpp_out_tt = [4.79, 4.27, 4.31, 4.14, 4.06, 3.97, 3.92, 3.90, 3.73, 3.63, 3.46, 3.45, 3.01, 2.88,
              2.87, 2.69, 2.34, 2.20, 2.08, 2.02, 2.04, 1.47, 1.43, 4.44, 4.30, 4.22, 3.82, 3.65,
              2.62, 2.61, 2.31, 1.90, 1.39, 1.34, 1.30, 1.32,
              2.99, 3.00, 2.62, 2.62, 2.62, 2.52, 1.69,
              1.55, 1.47, 1.40, 1.56, 1.68, 1.69, 1.45, 1.51, 1.56, 1.58,
              1.78, 2.14, 2.15, 1.61, 1.59, 1.65, 1.93, 2.52, 2.42, 1.78,
              1.73, 2.55, 2.81, 2.82, 2.06, 1.73, 1.49, 1.89, 1.57, 1.50,
              1.59, 1.79, 1.80, 2.00,
              1.65, 2.32, 2.33, 1.94, 1.51, 1.57, 1.48,
              1.59, 1.65, 1.71, 1.70, 1.50, 1.50, 1.50, 1.49, 1.43,
              1.47, 1.47, 1.79, 2.33, 2.46, 2.47, 1.97,
              1.59, 2.77, 3.59, 3.60, 2.99, 1.48, 1.43, 1.48,
              0.96, 0.98, 0.98, 1.00, 1.00, 1.45, 1.40, 1.45, 1.35]

x_ticks = [0, 2, 4, 6, 8, 10, 12, 14, 16, 18, 20, 22, 24]
y_ticks = [0, 1, 2, 3, 4, 5]

# ---------------- assemble tidy tables ----------------
bt_df = pd.concat([
    pd.DataFrame({"hour": bt_early_hour, "tt": bt_early_tt}),
    pd.DataFrame({"hour": bt_band_hour, "tt": bt_band_l1}),
    pd.DataFrame({"hour": bt_band_hour, "tt": bt_band_l2}),
    pd.DataFrame({"hour": bt_band_hour, "tt": bt_band_l3}),
    pd.DataFrame({"hour": bt_band_hour, "tt": bt_band_l4}),
    pd.DataFrame({"hour": bt_band_hour, "tt": bt_band_l5}),
    pd.DataFrame({"hour": bt_band2_hour, "tt": bt_band2_m1}),
    pd.DataFrame({"hour": bt_band2_hour, "tt": bt_band2_m2}),
    pd.DataFrame({"hour": bt_band2_hour, "tt": bt_band2_m3}),
    pd.DataFrame({"hour": bt_band2_hour, "tt": bt_band2_m4}),
    pd.DataFrame({"hour": bt_peak_hour, "tt": bt_peak_tt}),
    pd.DataFrame({"hour": bt_out_hour, "tt": bt_out_tt}),
], ignore_index=True)

vpp_df = pd.concat([
    pd.DataFrame({"hour": vpp_band_hour, "tt": vpp_band_lo}),
    pd.DataFrame({"hour": vpp_band_hour, "tt": vpp_band_mid}),
    pd.DataFrame({"hour": vpp_band_hour, "tt": vpp_band_hi}),
    pd.DataFrame({"hour": vpp_band2_hour, "tt": vpp_band2_m1}),
    pd.DataFrame({"hour": vpp_band2_hour, "tt": vpp_band2_m2}),
    pd.DataFrame({"hour": vpp_peak_hour, "tt": vpp_peak_tt}),
    pd.DataFrame({"hour": vpp_out_hour, "tt": vpp_out_tt}),
], ignore_index=True)

# ---------------- drawing ----------------
sns.set_theme(style="white")
plt.rcParams["font.family"] = ["Liberation Sans", "DejaVu Sans"]

W, H = 1522, 971
fig = plt.figure(figsize=(W / 100, H / 100), dpi=100)
left, right = 68 / W, 1497 / W
ax1 = fig.add_axes([left, 1 - 462 / H, right - left, (462 - 44) / H])
ax2 = fig.add_axes([left, 1 - 907 / H, right - left, (907 - 491) / H])

sns.scatterplot(data=bt_df, x="hour", y="tt", ax=ax1, marker="x", color="#0000ff",
                s=75, linewidth=1.5, alpha=0.7, label="BlueTooth")
sns.scatterplot(data=vpp_df, x="hour", y="tt", ax=ax2, marker="o", color="#ff0000",
                facecolor="none", edgecolor="#ff0000", s=38, linewidth=1.5, alpha=0.9,
                label="VPP")

FS = 17
for ax in (ax1, ax2):
    ax.set_xlim(0, 24)
    ax.set_ylim(0, 5)
    ax.set_xticks(x_ticks)
    ax.set_yticks(y_ticks)
    ax.tick_params(direction="in", length=10, width=1, color="black",
                   top=True, right=True, bottom=True, left=True,
                   labelsize=FS, labelcolor="black")
    ax.tick_params(axis="x", pad=9)
    ax.tick_params(axis="y", pad=5)
    for sp in ax.spines.values():
        sp.set_color("black")
        sp.set_linewidth(1.0)
    ax.grid(False)
    ax.set_ylabel("Travel Time (min)", fontsize=FS, color="black")
    ax.yaxis.set_label_coords(-0.024, 0.5)
    leg = ax.legend(loc="upper right", frameon=True, fancybox=False, edgecolor="black",
                    framealpha=1, fontsize=FS, borderaxespad=0.5, handlelength=3.6,
                    handletextpad=0.1, borderpad=0.35, markerscale=1.0)
    leg.get_frame().set_linewidth(1.0)

ax1.tick_params(labelbottom=False)
ax1.set_xlabel("")
ax1.set_title("24 Hour Overlay Plot", fontsize=FS, color="black", pad=12)
ax2.set_xlabel("Hour of Day", fontsize=FS, color="black", labelpad=6)

fig.savefig("out.png", dpi=100, facecolor="white")
